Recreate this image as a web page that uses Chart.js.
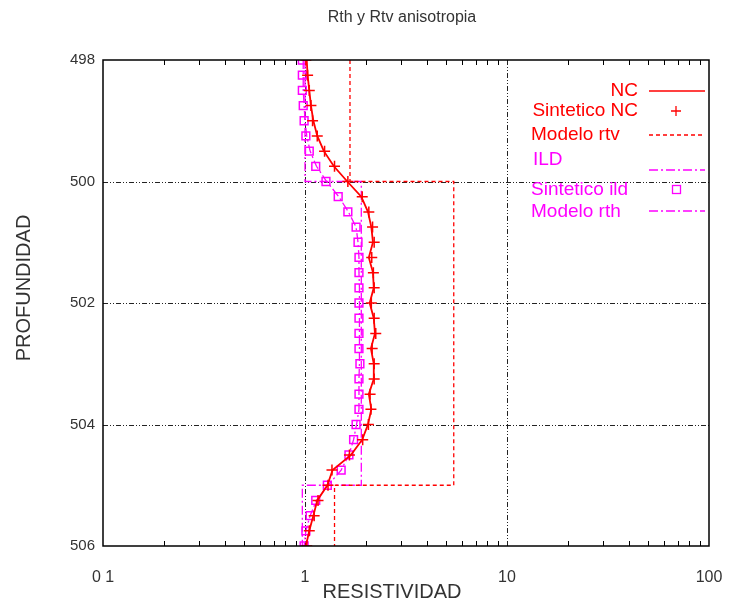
<!DOCTYPE html>
<html>
<head>
<meta charset="utf-8">
<script src="https://cdn.jsdelivr.net/npm/chart.js@4/dist/chart.umd.min.js"></script>
<style>
  html, body { margin: 0; padding: 0; background: #fff; overflow: hidden; }
  #wrap { width: 729px; height: 604px; }
</style>
</head>
<body>
<div id="wrap"><canvas id="chart"></canvas></div>
<script>
// depth samples (every 0.25 m)
const depths = [
  498.00, 498.25, 498.50, 498.75, 499.00, 499.25, 499.50, 499.75,
  500.00, 500.25, 500.50, 500.75, 501.00, 501.25, 501.50, 501.75,
  502.00, 502.25, 502.50, 502.75, 503.00, 503.25, 503.50, 503.75,
  504.00, 504.25, 504.50, 504.75, 505.00, 505.25, 505.50, 505.75, 506.00
];

// NC curve and its synthetic
const ncValues = [
  1.02, 1.03, 1.05, 1.07, 1.10, 1.15, 1.24, 1.39,
  1.62, 1.90, 2.05, 2.13, 2.17, 2.07, 2.17, 2.19,
  2.09, 2.19, 2.22, 2.12, 2.19, 2.19, 2.07, 2.13,
  2.05, 1.92, 1.69, 1.37, 1.29, 1.15, 1.10, 1.05, 1.01
];
const ncSynth = [
  1.01, 1.03, 1.05, 1.07, 1.09, 1.15, 1.25, 1.40,
  1.63, 1.92, 2.07, 2.16, 2.20, 2.14, 2.18, 2.20,
  2.13, 2.20, 2.24, 2.15, 2.20, 2.20, 2.10, 2.12,
  2.06, 1.93, 1.66, 1.36, 1.30, 1.16, 1.11, 1.05, 1.02
];

// ILD curve and its synthetic
const ildValues = [
  0.98, 0.98, 0.98, 0.99, 1.00, 1.02, 1.06, 1.14,
  1.28, 1.47, 1.64, 1.79, 1.83, 1.85, 1.85, 1.86,
  1.86, 1.86, 1.86, 1.86, 1.86, 1.85, 1.85, 1.85,
  1.80, 1.74, 1.65, 1.51, 1.30, 1.14, 1.06, 1.01, 0.99
];
const ildSynth = [
  0.97, 0.97, 0.97, 0.98, 0.99, 1.01, 1.05, 1.13,
  1.27, 1.46, 1.63, 1.79, 1.83, 1.85, 1.85, 1.85,
  1.85, 1.85, 1.85, 1.85, 1.87, 1.85, 1.85, 1.85,
  1.79, 1.74, 1.65, 1.51, 1.29, 1.13, 1.06, 1.01, 0.99
];

// step models
const rtvDepths = [498, 500, 500, 505, 505, 506];
const rtvValues = [1.67, 1.67, 5.45, 5.45, 1.40, 1.40];
const rthDepths = [498, 500, 500, 505, 505, 506];
const rthValues = [1.00, 1.00, 1.90, 1.90, 0.97, 0.97];

const xTicks = [0.1, 1, 10, 100];
const xTickLabels = ['0 1', '1', '10', '100'];
const yTicks = [498, 500, 502, 504, 506];

const RED = '#ff0000';
const MAG = '#ff00ff';
const FONT = '"Liberation Sans", Arial, sans-serif';

const pts = (xs, ys) => xs.map((v, i) => ({ x: v, y: ys[i] }));

const legendItems = [
  { text: 'NC', color: RED, align: 'right', tx: 638, ty: 91, kind: 'line', dash: [], ly: 91 },
  { text: 'Sintetico NC', color: RED, align: 'right', tx: 638, ty: 111, kind: 'cross', ly: 111 },
  { text: 'Modelo rtv', color: RED, align: 'left', tx: 531, ty: 135, kind: 'line', dash: [4, 3], ly: 135 },
  { text: 'ILD', color: MAG, align: 'left', tx: 533, ty: 160, kind: 'line', dash: [9, 3, 2, 3], ly: 170 },
  { text: 'Sintetico ild', color: MAG, align: 'left', tx: 531, ty: 190, kind: 'square', ly: 190 },
  { text: 'Modelo rth', color: MAG, align: 'left', tx: 531, ty: 212, kind: 'line', dash: [9, 3, 2, 3], ly: 211 }
];

const decor = {
  id: 'decor',
  beforeDatasetsDraw(chart) {
    const { ctx, chartArea: a, scales: { x, y } } = chart;
    ctx.save();
    // grid
    ctx.strokeStyle = '#222';
    ctx.lineWidth = 1;
    ctx.setLineDash([5, 2, 1, 2, 1, 2]);
    [1, 10].forEach(v => {
      const px = Math.round(x.getPixelForValue(v)) + 0.5;
      ctx.beginPath(); ctx.moveTo(px, a.top); ctx.lineTo(px, a.bottom); ctx.stroke();
    });
    [500, 502, 504].forEach(v => {
      const py = Math.round(y.getPixelForValue(v)) + 0.5;
      ctx.beginPath(); ctx.moveTo(a.left, py); ctx.lineTo(a.right, py); ctx.stroke();
    });
    ctx.setLineDash([]);
    // minor ticks on log axis
    ctx.strokeStyle = '#000';
    for (let dec = 0.1; dec < 100; dec *= 10) {
      for (let m = 2; m <= 9; m++) {
        const px = Math.round(x.getPixelForValue(dec * m)) + 0.5;
        ctx.beginPath();
        ctx.moveTo(px, a.bottom); ctx.lineTo(px, a.bottom - 5);
        ctx.moveTo(px, a.top); ctx.lineTo(px, a.top + 5);
        ctx.stroke();
      }
    }
    ctx.restore();
  },
  afterDatasetsDraw(chart) {
    const { ctx, chartArea: a } = chart;
    ctx.save();
    // frame
    ctx.strokeStyle = '#000';
    ctx.lineWidth = 1.5;
    ctx.strokeRect(a.left, a.top, a.right - a.left, a.bottom - a.top);

    // title and axis titles
    ctx.fillStyle = '#333';
    ctx.textAlign = 'center';
    ctx.textBaseline = 'middle';
    ctx.font = '16px ' + FONT;
    ctx.fillText('Rth y Rtv anisotropia', 402, 18);
    ctx.font = '20px ' + FONT;
    ctx.fillText('RESISTIVIDAD', 392, 592);
    ctx.save();
    ctx.translate(24, 288);
    ctx.rotate(-Math.PI / 2);
    ctx.fillText('PROFUNDIDAD', 0, 0);
    ctx.restore();

    // legend
    ctx.font = '19px ' + FONT;
    legendItems.forEach(it => {
      ctx.fillStyle = it.color;
      ctx.strokeStyle = it.color;
      ctx.textAlign = it.align;
      ctx.fillText(it.text, it.tx, it.ty);
      ctx.lineWidth = 1.3;
      if (it.kind === 'line') {
        ctx.setLineDash(it.dash);
        ctx.beginPath(); ctx.moveTo(649, it.ly); ctx.lineTo(705, it.ly); ctx.stroke();
        ctx.setLineDash([]);
      } else if (it.kind === 'cross') {
        ctx.beginPath();
        ctx.moveTo(676, it.ly - 5); ctx.lineTo(676, it.ly + 5);
        ctx.moveTo(671, it.ly); ctx.lineTo(681, it.ly);
        ctx.stroke();
      } else {
        ctx.strokeRect(672.5, it.ly - 4.5, 8, 8);
      }
    });
    ctx.restore();
  }
};

new Chart(document.getElementById('chart'), {
  type: 'line',
  data: {
    datasets: [
      { label: 'NC', data: pts(ncValues, depths), borderColor: RED, borderWidth: 1.8, pointRadius: 0, fill: false },
      { label: 'Sintetico NC', data: pts(ncSynth, depths), showLine: false, pointStyle: 'cross', pointRadius: 5.5, borderColor: RED, pointBorderWidth: 1.5 },
      { label: 'Modelo rtv', data: pts(rtvValues, rtvDepths), borderColor: RED, borderWidth: 1.3, borderDash: [4, 3], pointRadius: 0 },
      { label: 'ILD', data: pts(ildValues, depths), borderColor: MAG, borderWidth: 1.3, borderDash: [9, 3, 2, 3], pointRadius: 0 },
      { label: 'Sintetico ild', data: pts(ildSynth, depths), showLine: false, pointStyle: 'rect', pointRadius: 5.5, borderColor: MAG, backgroundColor: 'rgba(0,0,0,0)', pointBorderWidth: 1.5 },
      { label: 'Modelo rth', data: pts(rthValues, rthDepths), borderColor: MAG, borderWidth: 1.3, borderDash: [9, 3, 2, 3], pointRadius: 0 }
    ]
  },
  options: {
    responsive: true,
    maintainAspectRatio: false,
    animation: false,
    layout: { padding: { top: 60, right: 20, left: 0, bottom: 0 } },
    plugins: { legend: { display: false }, tooltip: { enabled: false } },
    scales: {
      x: {
        type: 'logarithmic',
        min: 0.1,
        max: 100,
        grid: { display: false, drawTicks: false },
        border: { display: false },
        afterBuildTicks: s => { s.ticks = xTicks.map(v => ({ value: v })); },
        afterFit: s => { s.height = 58; s.paddingLeft = 0; s.paddingRight = 0; },
        ticks: {
          padding: 22,
          maxRotation: 0,
          color: '#333',
          font: { family: FONT, size: 16 },
          callback: v => xTickLabels[xTicks.indexOf(v)] ?? ''
        }
      },
      y: {
        type: 'linear',
        reverse: true,
        min: 498,
        max: 506,
        grid: { display: false, drawTicks: false },
        border: { display: false },
        afterBuildTicks: s => { s.ticks = yTicks.map(v => ({ value: v })); },
        afterFit: s => { s.width = 103; s.paddingTop = 0; s.paddingBottom = 0; },
        ticks: {
          padding: 8,
          color: '#333',
          font: { family: FONT, size: 15 }
        }
      }
    }
  },
  plugins: [decor]
});
</script>
</body>
</html>
